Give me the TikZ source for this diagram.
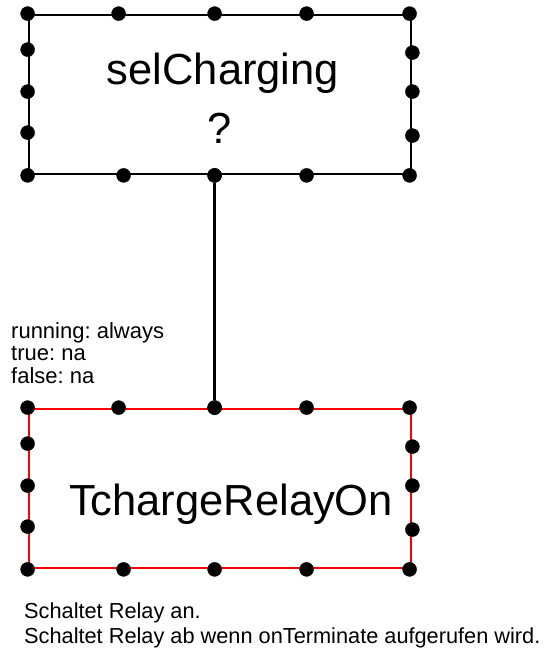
\documentclass[tikz,border=0pt]{standalone}
\usepackage{fontspec}
\setmainfont{Liberation Sans}
\frenchspacing
\usetikzlibrary{positioning,calc}
\tikzset{port/.style={draw,circle,fill=black,minimum size=14pt,inner sep=0pt}  }
\tikzset{block/.style={draw,line width=2.8pt,minimum width=382pt,minimum height=159pt,inner sep=0pt}  }
\tikzset{big/.style={font=\fontsize{43.5}{48}\selectfont,inner sep=0pt}  }
\tikzset{note/.style={font=\fontsize{22}{22.5}\selectfont,align=left,inner sep=0pt,anchor=north west}  }

\begin{document}
\begin{tikzpicture}[x=1pt,y=-1pt]
	\useasboundingbox (0,0) rectangle (547,648);
		% the two blocks
		\node[block] (sel) at (220,94.5) {};
		\node[block,draw=red] (relay) at (220,488.5) {};
		\node[big,anchor=base] (seltxt) at (223,84) {selCharging};
		\node[big,anchor=base] (selq) at (220,143) {?};
		\node[big,anchor=base] (relaytxt) at (231,515) {TchargeRelayOn};

		% ports along the edges
		\foreach \b in {sel,relay}{
			\foreach \x [count=\i] in {0,91,187,279,382}
				\coordinate[port] (\b-t\i) at ($(\b.north west)+(\x,0)$);
			\foreach \x [count=\i] in {0,96,187,279,382}
				\coordinate[port] (\b-b\i) at ($(\b.south west)+(\x,0)$);
			\foreach \y [count=\i] in {36,78,119}
				\coordinate[port] (\b-l\i) at ($(\b.north west)+(0,\y)$);
			\foreach \y [count=\i] in {39,78,122}
				\coordinate[port] (\b-r\i) at ($(\b.north east)+(0,\y)$);
		}

		\draw[line width=2.8pt] (sel-b3) -- (relay-t3);
		\foreach \c in {sel-b3,relay-t3}
			\node[port] at (\c) {};

		\node[note] (cond) at (11,322) {running: always\\true: na\\false: na};
		\node[note,font=\fontsize{21.75}{25}\selectfont] (desc) at (24,602.5) {Schaltet Relay an.\\Schaltet Relay ab wenn onTerminate aufgerufen wird.};
	\end{tikzpicture}
\end{document}
